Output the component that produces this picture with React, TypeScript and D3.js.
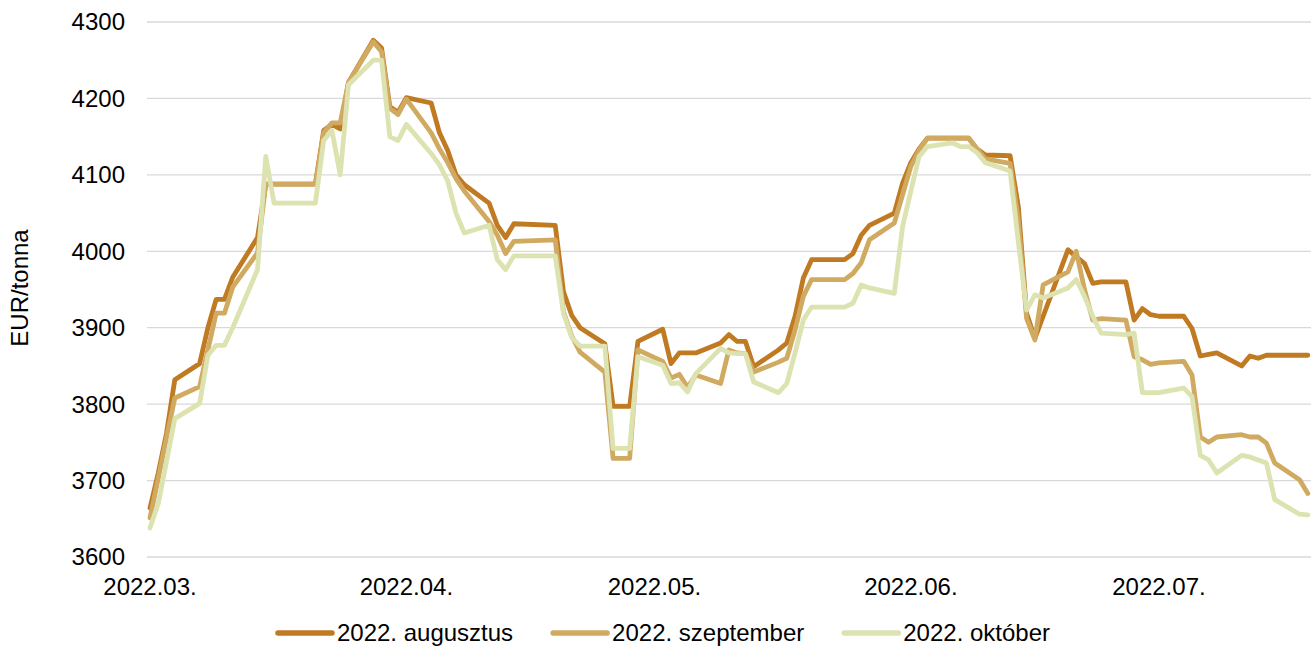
import React, { useEffect, useRef } from "react";
import * as d3 from "d3";

const dates: string[] = [
  "2022-03-01","2022-03-02","2022-03-03","2022-03-04","2022-03-07","2022-03-08","2022-03-09","2022-03-10","2022-03-11",
  "2022-03-14","2022-03-15","2022-03-16","2022-03-17","2022-03-18","2022-03-21","2022-03-22","2022-03-23","2022-03-24",
  "2022-03-25","2022-03-28","2022-03-29","2022-03-30","2022-03-31",
  "2022-04-01","2022-04-04","2022-04-05","2022-04-06","2022-04-07","2022-04-08","2022-04-11","2022-04-12","2022-04-13",
  "2022-04-14","2022-04-19","2022-04-20","2022-04-21","2022-04-22","2022-04-25","2022-04-26","2022-04-27","2022-04-28","2022-04-29",
  "2022-05-02","2022-05-03","2022-05-04","2022-05-05","2022-05-06","2022-05-09","2022-05-10","2022-05-11","2022-05-12",
  "2022-05-13","2022-05-16","2022-05-17","2022-05-18","2022-05-19","2022-05-20","2022-05-23","2022-05-24","2022-05-25",
  "2022-05-26","2022-05-27","2022-05-30","2022-05-31",
  "2022-06-01","2022-06-02","2022-06-03","2022-06-06","2022-06-07","2022-06-08","2022-06-09","2022-06-10","2022-06-13",
  "2022-06-14","2022-06-15","2022-06-16","2022-06-17","2022-06-20","2022-06-21","2022-06-22","2022-06-23","2022-06-24",
  "2022-06-27","2022-06-28","2022-06-29","2022-06-30",
  "2022-07-01","2022-07-04","2022-07-05","2022-07-06","2022-07-07","2022-07-08","2022-07-11","2022-07-12","2022-07-13",
  "2022-07-14","2022-07-15","2022-07-18","2022-07-19",
];

const augusztus: number[] = [
  3664, 3710, 3762, 3832, 3853, 3900, 3937, 3937, 3966, 4018, 4088, 4088, 4088, 4088, 4088, 4158, 4166, 4160, 4221, 4276, 4266, 4189, 4182,
  4201, 4194, 4155, 4132, 4100, 4087, 4063, 4034, 4018, 4036, 4034, 3947, 3916, 3900, 3879, 3797, 3797, 3797, 3882,
  3898, 3853, 3867, 3867, 3867, 3880, 3891, 3882, 3882, 3849, 3871, 3880, 3915, 3965, 3989, 3989, 3989, 3997, 4021, 4034, 4050, 4089,
  4116, 4134, 4148, 4148, 4148, 4148, 4134, 4126, 4125, 4058, 3919, 3886, 3915, 4002, 3993, 3984, 3958, 3960, 3960, 3910, 3925, 3917,
  3915, 3915, 3899, 3863, 3865, 3867, 3850, 3863, 3860, 3864, 3864, 3864, 3864,
];

const szeptember: number[] = [
  3651, 3703, 3756, 3808, 3823, 3871, 3919, 3919, 3953, 3998, 4088, 4088, 4088, 4088, 4088, 4155, 4168, 4168, 4221, 4274, 4261, 4187, 4179,
  4199, 4155, 4134, 4116, 4095, 4079, 4039, 4021, 3997, 4013, 4015, 3921, 3889, 3868, 3842, 3729, 3729, 3729, 3871,
  3856, 3834, 3839, 3822, 3838, 3827, 3871, 3867, 3866, 3842, 3855, 3860, 3897, 3941, 3963, 3963, 3963, 3971, 3985, 4015, 4037, 4074,
  4111, 4132, 4148, 4148, 4148, 4148, 4134, 4121, 4115, 4040, 3912, 3884, 3956, 3973, 4000, 3950, 3910, 3912, 3910, 3862, 3858, 3852,
  3854, 3856, 3838, 3757, 3750, 3757, 3760, 3757, 3757, 3749, 3723, 3701, 3683,
];

const oktober: number[] = [
  3638, 3670, 3725, 3781, 3801, 3864, 3877, 3877, 3900, 3976, 4124, 4063, 4063, 4063, 4063, 4145, 4158, 4100, 4218, 4250, 4250, 4150, 4145,
  4166, 4128, 4113, 4092, 4050, 4024, 4034, 3989, 3976, 3994, 3994, 3919, 3887, 3876, 3876, 3742, 3742, 3742, 3862,
  3851, 3827, 3828, 3816, 3840, 3873, 3867, 3866, 3866, 3829, 3815, 3827, 3867, 3910, 3927, 3927, 3927, 3932, 3956, 3952, 3945, 4032,
  4079, 4124, 4137, 4142, 4137, 4137, 4129, 4116, 4105, 4012, 3923, 3943, 3939, 3952, 3963, 3941, 3915, 3893, 3891, 3893, 3815, 3815,
  3815, 3821, 3810, 3733, 3727, 3710, 3733, 3731, 3727, 3723, 3675, 3656, 3655,
];

const seriesNames: string[] = ["2022. augusztus", "2022. szeptember", "2022. október"];
const seriesColors: string[] = ["#C07A22", "#D1AA62", "#DDE3B0"];
const yTicks: number[] = [3600, 3700, 3800, 3900, 4000, 4100, 4200, 4300];
const xTickDates: string[] = ["2022-03-01", "2022-04-01", "2022-05-01", "2022-06-01", "2022-07-01"];
const xTickLabels: string[] = ["2022.03.", "2022.04.", "2022.05.", "2022.06.", "2022.07."];
const yAxisTitle = "EUR/tonna";

const W = 1314;
const H = 647;
const FONT = "'Liberation Sans', Arial, sans-serif";

export default function App() {
  const ref = useRef<SVGSVGElement | null>(null);

  useEffect(() => {
    document.body.style.margin = "0";
    const svg = d3.select(ref.current);
    svg.selectAll("*").remove();

    const parse = d3.utcParse("%Y-%m-%d");
    const x = d3
      .scaleUtc()
      .domain([parse("2022-03-01") as Date, parse("2022-07-19") as Date])
      .range([150, 1307.8]);
    const y = d3.scaleLinear().domain([3600, 4300]).range([557, 22]);
    const gridX0 = 147;
    const gridX1 = 1311;

    // gridlines
    svg
      .append("g")
      .selectAll("line")
      .data(yTicks)
      .join("line")
      .attr("x1", gridX0)
      .attr("x2", gridX1)
      .attr("y1", (d) => y(d))
      .attr("y2", (d) => y(d))
      .attr("stroke", "#d9d9d9")
      .attr("stroke-width", 1.3);

    // y tick labels
    svg
      .append("g")
      .selectAll("text")
      .data(yTicks)
      .join("text")
      .attr("x", 125)
      .attr("y", (d) => y(d))
      .attr("dy", "0.35em")
      .attr("text-anchor", "end")
      .attr("font-family", FONT)
      .attr("font-size", 24)
      .attr("fill", "#000")
      .text((d) => String(d));

    // x tick labels
    svg
      .append("g")
      .selectAll("text")
      .data(xTickDates)
      .join("text")
      .attr("x", (d) => x(parse(d) as Date))
      .attr("y", 587)
      .attr("dy", "0.35em")
      .attr("text-anchor", "middle")
      .attr("font-family", FONT)
      .attr("font-size", 24)
      .attr("fill", "#000")
      .text((d, i) => xTickLabels[i]);

    // y axis title
    svg
      .append("text")
      .attr("transform", `translate(28,288) rotate(-90)`)
      .attr("text-anchor", "middle")
      .attr("font-family", FONT)
      .attr("font-size", 24)
      .attr("fill", "#000")
      .text(yAxisTitle);

    // lines
    const allSeries = [augusztus, szeptember, oktober];
    const parsedDates = dates.map((d) => parse(d) as Date);
    const line = d3
      .line<number>()
      .x((_, i) => x(parsedDates[i]))
      .y((v) => y(v));
    allSeries.forEach((vals, si) => {
      svg
        .append("path")
        .attr("d", line(vals) as string)
        .attr("fill", "none")
        .attr("stroke", seriesColors[si])
        .attr("stroke-width", 4.8)
        .attr("stroke-linejoin", "round")
        .attr("stroke-linecap", "round");
    });

    // legend
    const lg = svg.append("g");
    const lineLen = 54;
    const gapText = 5;
    const gapItem = 40;
    const items = seriesNames.map((name, i) => {
      const g = lg.append("g");
      g.append("line")
        .attr("x1", 0)
        .attr("x2", lineLen)
        .attr("y1", 0)
        .attr("y2", 0)
        .attr("stroke", seriesColors[i])
        .attr("stroke-width", 5.5)
        .attr("stroke-linecap", "round");
      const t = g
        .append("text")
        .attr("x", lineLen + gapText)
        .attr("y", 0)
        .attr("dy", "0.35em")
        .attr("font-family", FONT)
        .attr("font-size", 24)
        .attr("fill", "#000")
        .text(name);
      const w = (t.node() as SVGTextElement).getComputedTextLength();
      return { g, w: lineLen + gapText + w };
    });
    const total = items.reduce((s, it) => s + it.w, 0) + gapItem * (items.length - 1);
    let cx = 664 - total / 2;
    items.forEach((it) => {
      it.g.attr("transform", `translate(${cx},633)`);
      cx += it.w + gapItem;
    });
  }, []);

  return (
    <div style={{ position: "absolute", left: 0, top: 0 }}>
      <svg ref={ref} width={W} height={H} style={{ display: "block", background: "#fff" }} />
    </div>
  );
}
